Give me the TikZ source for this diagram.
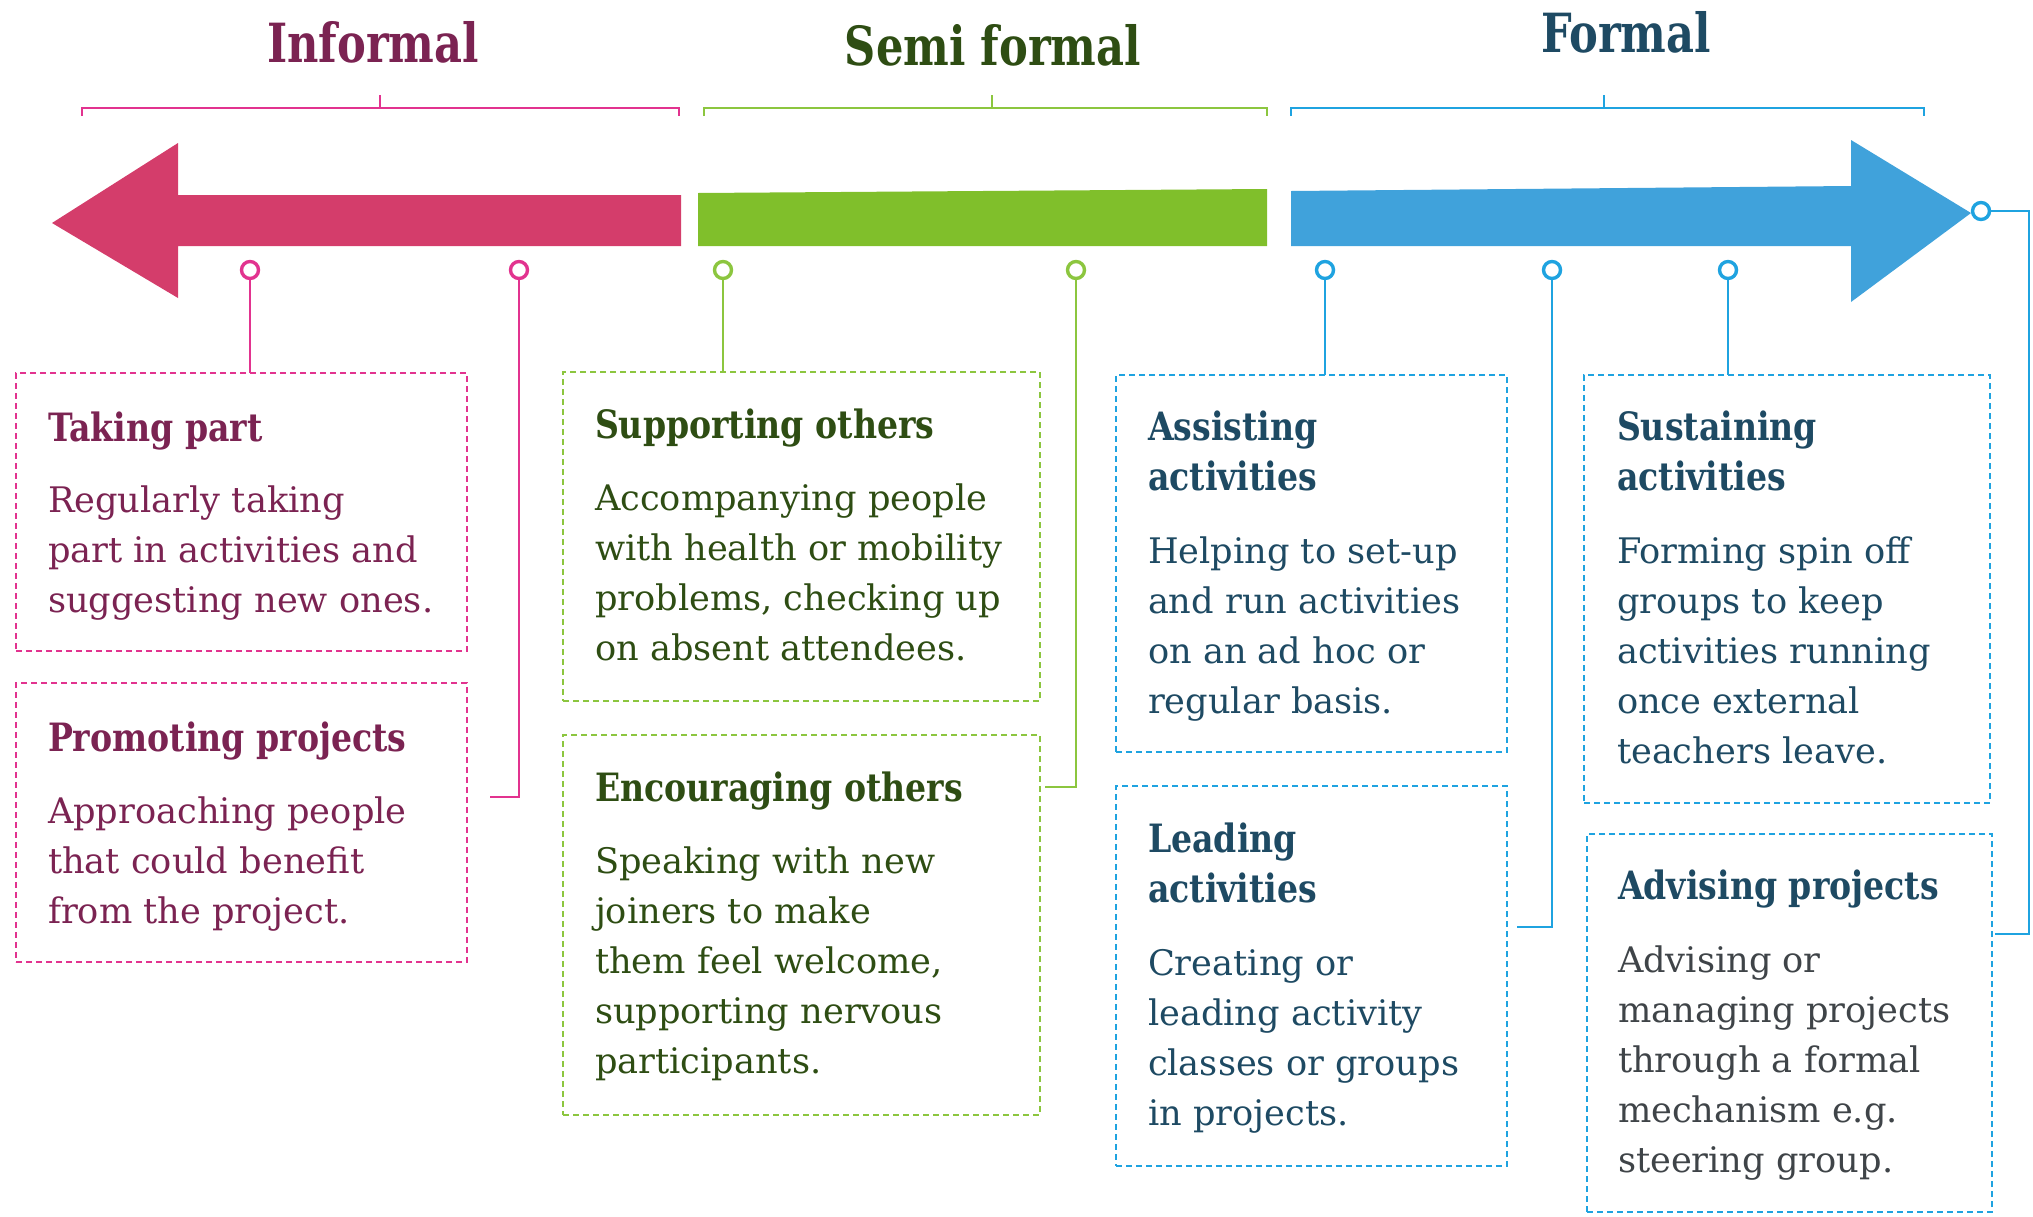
\documentclass[tikz,border=0pt]{standalone}
\usepackage{fontspec}
\setmainfont{DejaVu Serif}
\newfontfamily\headfont[FakeStretch=0.85]{DejaVu Serif}
\newfontfamily\titlefont[FakeStretch=0.8]{DejaVu Serif}
\definecolor{infdark}{HTML}{7B2352}
\definecolor{infline}{HTML}{E2338F}
\definecolor{infarrow}{HTML}{D43D6B}
\definecolor{semdark}{HTML}{2E4D13}
\definecolor{semline}{HTML}{8CC63F}
\definecolor{semarrow}{HTML}{80BF2B}
\definecolor{fordark}{HTML}{1E4A63}
\definecolor{forline}{HTML}{1FA3E0}
\definecolor{forarrow}{HTML}{40A2DB}
\definecolor{forgrey}{HTML}{3F4448}

\begin{document}
\begin{tikzpicture}[x=0.5pt,y=-0.5pt,
	every node/.style={inner sep=0,outer sep=0},
	title/.style={anchor=base,font=\titlefont\bfseries\fontsize{27}{30}\selectfont},
	head/.style={anchor=north west,align=left,font=\headfont\bfseries\fontsize{19.5}{25}\selectfont},
	body/.style={anchor=north west,align=left,font=\fontsize{17.6}{25}\selectfont},
	card/.style={draw,dash pattern=on 3pt off 2pt,line width=1.3pt,anchor=north west},
	pin/.style={circle,draw,fill=white,line width=1.7pt,minimum size=8.5pt},
	link/.style={line width=1.45pt}]
	\useasboundingbox (0,0) rectangle (2033,1216);
	% arrows
	\fill[infarrow] (681,195) -- (178,195) -- (178,143) -- (52,223) -- (178,298) -- (178,246) -- (681,246) -- cycle;
	\fill[semarrow] (698,193) -- (1267,189) -- (1267,246) -- (698,246) -- cycle;
	\fill[forarrow] (1291,191) -- (1851,186) -- (1851,140) -- (1971,213) -- (1851,302) -- (1851,246) -- (1291,246) -- cycle;
	% brackets
	\draw[link,infline] (82,116) -- (82,108) -- (679,108) -- (679,116) (380,95) -- (380,108);
	\draw[link,semline] (704,116) -- (704,108) -- (1267,108) -- (1267,116) (992,95) -- (992,108);
	\draw[link,forline] (1291,116) -- (1291,108) -- (1924,108) -- (1924,116) (1604,95) -- (1604,108);
	\node[title,text=infdark] (tinf) at (373,62) {Informal};
	\node[title,text=semdark] (tsem) at (993,65) {Semi formal};
	\node[title,text=fordark] (tfor) at (1626,52) {Formal};
	% informal
	\begin{scope}[infline]
	\node[card] (tp) at (16,373) [minimum width=225.5pt,minimum height=139pt] {};
	\node[card] (pp) at (16,683) [minimum width=225.5pt,minimum height=139.5pt] {};
	\node[pin] (ipin1) at (250,270) {};
	\node[pin] (ipin2) at (519,270) {};
	\coordinate (pp-in) at (490,797);
	\draw[link] (ipin1.south) -- (ipin1.south |- tp.north);
	\draw[link] (ipin2.south) |- (pp-in);
	\end{scope}
	\node[head,text=infdark] (tp-h) at (48,406) {\strut Taking part};
	\node[body,text=infdark] (tp-b) at (48,477) {\strut Regularly taking\\part in activities and\\suggesting new ones.};
	\node[head,text=infdark] (pp-h) at (48,716) {\strut Promoting projects};
	\node[body,text=infdark] (pp-b) at (48,788) {\strut Approaching people\\that could benefit\\from the project.};
	% semi formal
	\begin{scope}[semline]
	\node[card] (so) at (563,372) [minimum width=238.5pt,minimum height=164.5pt] {};
	\node[card] (eo) at (563,735) [minimum width=238.5pt,minimum height=190pt] {};
	\node[pin] (spin1) at (723,270) {};
	\node[pin] (spin2) at (1076,270) {};
	\coordinate (eo-in) at (1045,787);
	\draw[link] (spin1.south) -- (spin1.south |- so.north);
	\draw[link] (spin2.south) |- (eo-in);
	\end{scope}
	\node[head,text=semdark] (so-h) at (595,403) {\strut Supporting others};
	\node[body,text=semdark] (so-b) at (595,475) {\strut Accompanying people\\with health or mobility\\problems, checking up\\on absent attendees.};
	\node[head,text=semdark] (eo-h) at (595,766) {\strut Encouraging others};
	\node[body,text=semdark] (eo-b) at (595,838) {\strut Speaking with new\\joiners to make\\them feel welcome,\\supporting nervous\\participants.};
	% formal
	\begin{scope}[forline]
	\node[card] (aa) at (1116,375) [minimum width=195.5pt,minimum height=188.5pt] {};
	\node[card] (la) at (1116,786) [minimum width=195.5pt,minimum height=190pt] {};
	\node[card] (sa) at (1584,375) [minimum width=203pt,minimum height=214pt] {};
	\node[card] (ap) at (1587,834) [minimum width=202.5pt,minimum height=189pt] {};
	\node[pin] (fpin1) at (1325,270) {};
	\node[pin] (fpin2) at (1552,270) {};
	\node[pin] (fpin3) at (1728,270) {};
	\node[pin] (fpin4) at (1981,211) {};
	\coordinate (la-in) at (1517,927);
	\coordinate (ap-in) at (1995,934);
	\draw[link] (fpin1.south) -- (fpin1.south |- aa.north);
	\draw[link] (fpin2.south) |- (la-in);
	\draw[link] (fpin3.south) -- (fpin3.south |- sa.north);
	\draw[link] (fpin4.east) -| ([xshift=17pt]ap-in) -- (ap-in);
	\end{scope}
	\node[head,text=fordark] (aa-h) at (1148,405) {\strut Assisting\\activities};
	\node[body,text=fordark] (aa-b) at (1148,528) {\strut Helping to set-up\\and run activities\\on an ad hoc or\\regular basis.};
	\node[head,text=fordark] (la-h) at (1148,817) {\strut Leading\\activities};
	\node[body,text=fordark] (la-b) at (1148,940) {\strut Creating or\\leading activity\\classes or groups\\in projects.};
	\node[head,text=fordark] (sa-h) at (1617,405) {\strut Sustaining\\activities};
	\node[body,text=fordark] (sa-b) at (1617,528) {\strut Forming spin off\\groups to keep\\activities running\\once external\\teachers leave.};
	\node[head,text=fordark] (ap-h) at (1618,864) {\strut Advising projects};
	\node[body,text=forgrey] (ap-b) at (1618,937) {\strut Advising or\\managing projects\\through a formal\\mechanism e.g.\\steering group.};
\end{tikzpicture}
\end{document}
